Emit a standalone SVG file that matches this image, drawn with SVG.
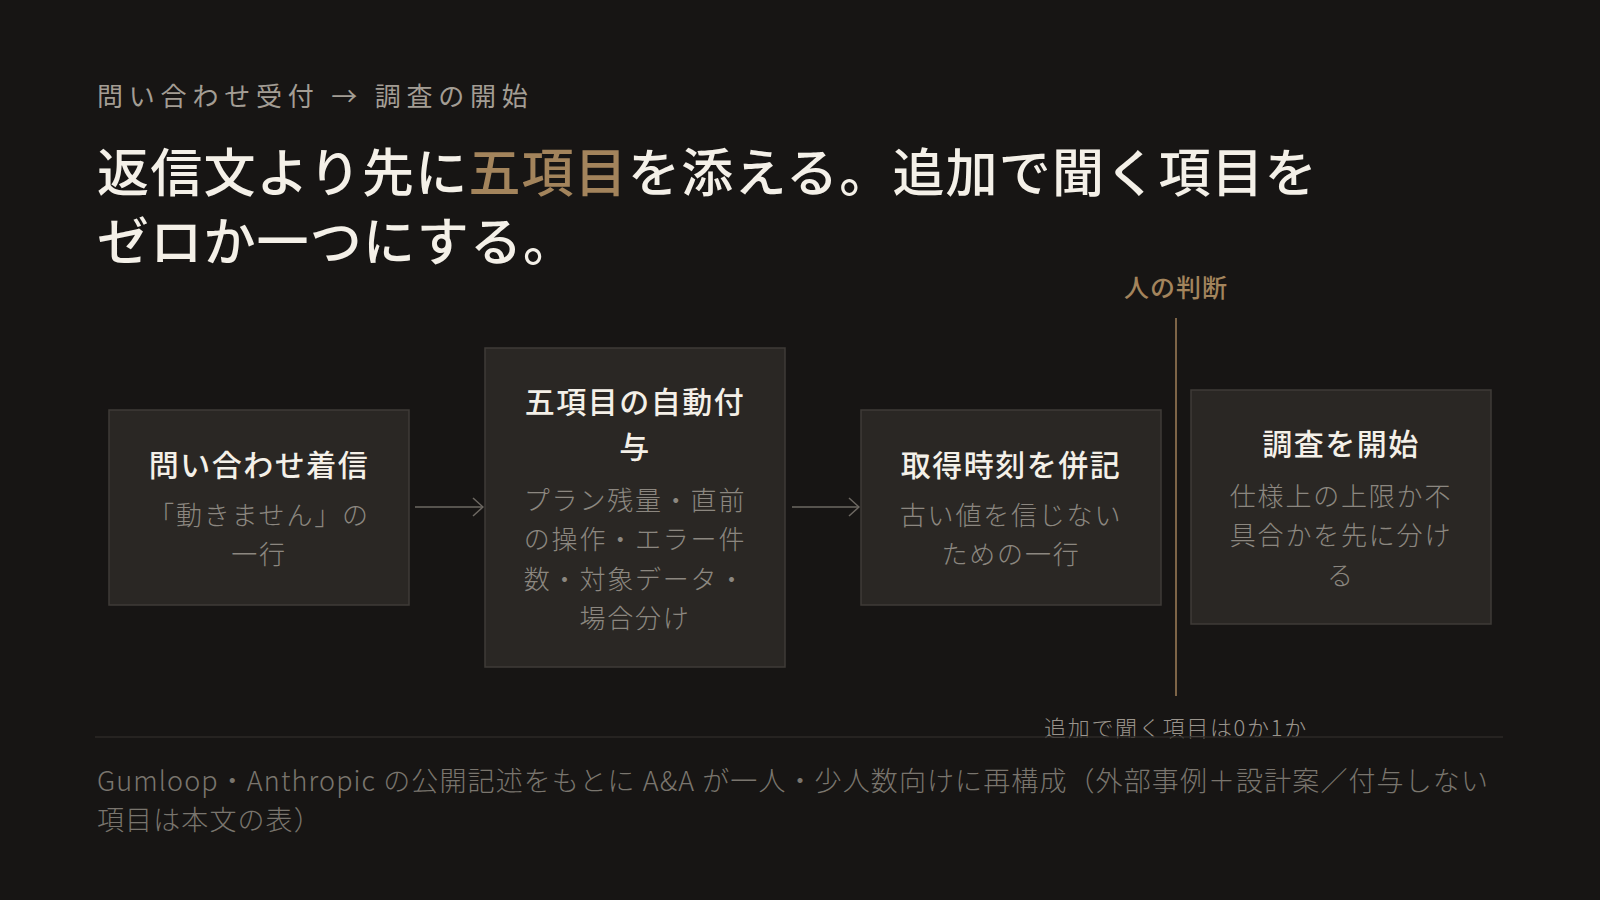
<svg xmlns="http://www.w3.org/2000/svg" width="1600" height="900" viewBox="0 0 1600 900">
<defs>
<style>
text{font-family:"Noto Sans CJK JP","Noto Sans",sans-serif;}
.kicker{font-size:26px;fill:#a39d94;letter-spacing:5.8px;font-weight:400;}
.title{font-size:52px;fill:#f4f0e8;font-weight:500;letter-spacing:1.2px;}
.gold{fill:#a3845c;}
.box{fill:#2a2724;stroke:#3f3b37;stroke-width:1.5;}
.bt{font-size:30px;fill:#f4f0e8;font-weight:500;text-anchor:middle;letter-spacing:1.5px;}
.bs{font-size:26px;fill:#8c8780;font-weight:300;text-anchor:middle;letter-spacing:1.8px;}
.conn{stroke:#6d6862;stroke-width:1.5;fill:none;}
.judge{font-size:25px;fill:#a3845c;font-weight:500;text-anchor:middle;letter-spacing:1px;}
.note{font-size:22px;fill:#9a948c;font-weight:300;text-anchor:middle;letter-spacing:1.7px;}
.foot{font-size:27px;fill:#7a756e;font-weight:300;letter-spacing:1.1px;}
</style>
<marker id="chev" viewBox="0 0 12 20" refX="11" refY="10" markerWidth="12" markerHeight="20" markerUnits="userSpaceOnUse" orient="auto">
<path d="M1,1 L11,10 L1,19" fill="none" stroke="#6d6862" stroke-width="1.5"/>
</marker>
</defs>
<rect x="0" y="0" width="1600" height="900" fill="#171514"/>

<text class="kicker" x="97" y="106">問い合わせ受付 → 調査の開始</text>
<text class="title" x="97" y="192">返信文より先に<tspan class="gold">五項目</tspan>を添える。追加で聞く項目を</text>
<text class="title" x="97" y="261">ゼロか一つにする。</text>

<g id="connectors">
<line class="conn" x1="415" y1="507" x2="483" y2="507" marker-end="url(#chev)"/>
<line class="conn" x1="792" y1="507" x2="859" y2="507" marker-end="url(#chev)"/>
<line x1="1176" y1="318" x2="1176" y2="696" stroke="#7d6447" stroke-width="2"/>
</g>

<g id="node1">
<rect class="box" x="109" y="410" width="300" height="195"/>
<text class="bt" x="259" y="476">問い合わせ着信</text>
<text class="bs" x="259" y="525">「動きません」の</text>
<text class="bs" x="259" y="564">一行</text>
</g>

<g id="node2">
<rect class="box" x="485" y="348" width="300" height="319"/>
<text class="bt" x="635" y="413">五項目の自動付</text>
<text class="bt" x="635" y="458">与</text>
<text class="bs" x="635" y="510">プラン残量・直前</text>
<text class="bs" x="635" y="549">の操作・エラー件</text>
<text class="bs" x="635" y="589">数・対象データ・</text>
<text class="bs" x="635" y="628">場合分け</text>
</g>

<g id="node3">
<rect class="box" x="861" y="410" width="300" height="195"/>
<text class="bt" x="1011" y="476">取得時刻を併記</text>
<text class="bs" x="1011" y="525">古い値を信じない</text>
<text class="bs" x="1011" y="564">ための一行</text>
</g>

<g id="node4">
<rect class="box" x="1191" y="390" width="300" height="234"/>
<text class="bt" x="1341" y="455">調査を開始</text>
<text class="bs" x="1341" y="506">仕様上の上限か不</text>
<text class="bs" x="1341" y="545">具合かを先に分け</text>
<text class="bs" x="1341" y="585">る</text>
</g>

<g id="judgement">
<text class="judge" x="1176" y="297">人の判断</text>
<text class="note" x="1176" y="736">追加で聞く項目は0か1か</text>
</g>

<line x1="95" y1="737" x2="1503" y2="737" stroke="#2c2926" stroke-width="1.5"/>

<text class="foot" x="97" y="791">Gumloop・Anthropic の公開記述をもとに A&amp;A が一人・少人数向けに再構成（外部事例＋設計案／付与しない</text>
<text class="foot" x="97" y="830">項目は本文の表）</text>
</svg>
